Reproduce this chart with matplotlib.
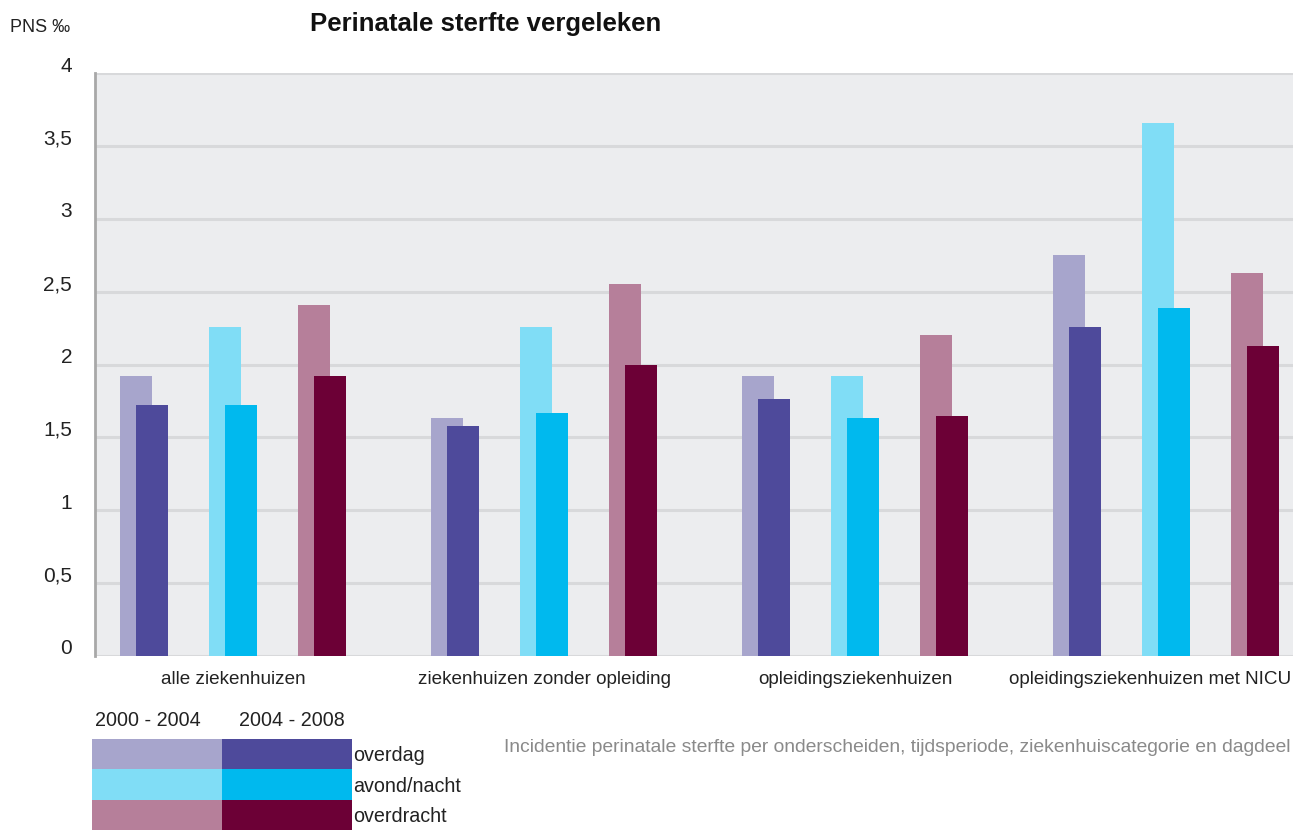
import numpy as np
import matplotlib.pyplot as plt
from matplotlib.patches import Rectangle
from matplotlib.transforms import ScaledTranslation

categories = ['alle ziekenhuizen', 'ziekenhuizen zonder opleiding',
              'opleidingsziekenhuizen', 'opleidingsziekenhuizen met NICU']
dagdelen = ['overdag', 'avond/nacht', 'overdracht']
periodes = ['2000 - 2004', '2004 - 2008']

# rows: dagdeel, cols: category
p2000 = np.array([[1.92, 1.63, 1.92, 2.75],
                  [2.26, 2.26, 1.92, 3.66],
                  [2.41, 2.55, 2.20, 2.63]])
p2004 = np.array([[1.72, 1.58, 1.76, 2.26],
                  [1.72, 1.67, 1.63, 2.39],
                  [1.92, 2.00, 1.65, 2.13]])

yticks = [0, 0.5, 1, 1.5, 2, 2.5, 3, 3.5, 4]
yticklabels = ['0', '0,5', '1', '1,5', '2', '2,5', '3', '3,5', '4']

light = ['#A7A5CC', '#80DDF6', '#B67F9A']
dark = ['#4E4A9B', '#00B9EE', '#6C0036']

plt.rcParams['font.family'] = ['Liberation Sans', 'DejaVu Sans']

W, H = 1306, 830
fig = plt.figure(figsize=(W / 100, H / 100), dpi=100)
ax = fig.add_axes([95 / W, 1 - 656 / H, (1293 - 95) / W, (656 - 73) / H])
ax.set_facecolor('#ECEDEF')

x = np.arange(len(categories))
sub = 89 / 311
bw = 32 / 311
off = 8 / 311
for i in range(3):
    xc = x + (i - 1) * sub
    ax.bar(xc - off, p2000[i], width=bw, color=light[i], zorder=3)
    ax.bar(xc + off, p2004[i], width=bw, color=dark[i], zorder=3)

ax.set_xlim(-138 / 311, 3 + 127 / 311)
ax.set_ylim(0, 4)
for yv in yticks:
    ax.axhline(yv, color='#D8D9DB', lw=2.2, zorder=1)

ax.set_yticks(yticks)
ax.set_yticklabels([])
ax.tick_params(axis='y', length=0)
shift = ScaledTranslation(-23 / 100, 7 / 100, fig.dpi_scale_trans)
for yv, lab in zip(yticks, yticklabels):
    ax.text(0, yv, lab, transform=ax.get_yaxis_transform() + shift,
            ha='right', va='center', fontsize=15, color='#222222')

ax.set_xticks(x)
ax.set_xticklabels(categories, fontsize=13.6, color='#222222')
ax.tick_params(axis='x', length=0, pad=11)
# last label is pushed left so it stays inside the figure
lastlab = ax.get_xticklabels()[-1]
lastlab.set_transform(lastlab.get_transform() +
                      ScaledTranslation(-16 / 100, 0, fig.dpi_scale_trans))

for s in ['top', 'right', 'bottom']:
    ax.spines[s].set_visible(False)
ax.spines['left'].set_color('#A8A8A8')
ax.spines['left'].set_linewidth(2)
ax.spines['left'].set_zorder(4)

fig.text(10 / W, 1 - 27 / H, 'PNS ‰', fontsize=13, va='center', color='#222222')
fig.text(310 / W, 1 - 24 / H, 'Perinatale sterfte vergeleken', fontsize=18.5,
         fontweight='bold', va='center', color='#111111')

# legend block
lax = fig.add_axes([92 / W, 0, (352 - 92) / W, (830 - 739) / H])
lax.set_xlim(0, 2)
lax.set_ylim(0, 3)
lax.axis('off')
for i in range(3):
    yb = 2 - i
    lax.add_patch(Rectangle((0, yb), 1, 1, color=light[i], lw=0))
    lax.add_patch(Rectangle((1, yb), 1, 1, color=dark[i], lw=0))
    lax.text(2.01, yb + 0.45, dagdelen[i], fontsize=14.2, va='center',
             ha='left', color='#222222', clip_on=False)
for xp, per in zip([0.43, 1.54], periodes):
    lax.text(xp, 3.6, per, fontsize=14.2, ha='center', va='center',
             color='#222222', clip_on=False)

fig.text(1290 / W, 1 - 747 / H,
         'Incidentie perinatale sterfte per onderscheiden, tijdsperiode, '
         'ziekenhuiscategorie en dagdeel',
         fontsize=13.9, ha='right', va='center', color='#8A8A8A')

fig.savefig('out.png', dpi=100)
